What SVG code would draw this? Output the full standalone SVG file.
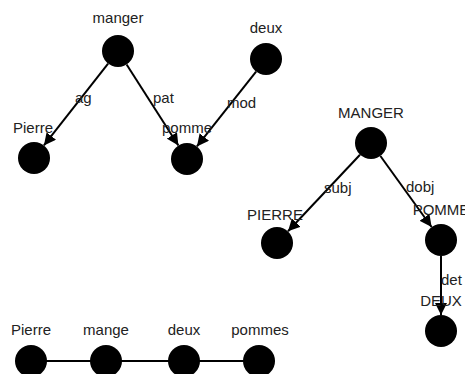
<svg xmlns="http://www.w3.org/2000/svg" width="465" height="374" viewBox="0 0 465 374">
  <style>
    .node circle { fill: #000; }
    text { font-family: "Liberation Sans", Arial, sans-serif; font-size: 15px; fill: #222; }
    .name { text-anchor: middle; }
    .rel { text-anchor: start; }
    .edge { stroke: #000; stroke-width: 2; fill: none; }
    .arc { marker-end: url(#arrow); }
  </style>
  <defs>
    <marker id="arrow" viewBox="0 0 10 10" refX="10" refY="5" markerWidth="6" markerHeight="6" orient="auto" markerUnits="strokeWidth">
      <path d="M0,0 L10,5 L0,10 z" fill="#000"/>
    </marker>
  </defs>

  <!-- connectors -->
  <g id="connectors">
    <line class="edge arc" x1="108.1" y1="63.6" x2="43.9" y2="145.4"/>
    <line class="edge arc" x1="126.6" y1="64.5" x2="178.4" y2="145.5"/>
    <line class="edge arc" x1="256.1" y1="71.6" x2="196.9" y2="146.4"/>
    <line class="edge arc" x1="360.0" y1="154.7" x2="288.0" y2="231.3"/>
    <line class="edge arc" x1="380.4" y1="156.0" x2="431.6" y2="227.0"/>
    <line class="edge arc" x1="441" y1="256" x2="441" y2="315"/>
    <line class="edge" x1="31" y1="361" x2="259" y2="361"/>
    <text class="rel" x="75" y="103">ag</text>
    <text class="rel" x="153" y="103">pat</text>
    <text class="rel" x="227" y="108">mod</text>
    <text class="rel" x="324" y="193">subj</text>
    <text class="rel" x="406" y="192">dobj</text>
    <text class="rel" x="441" y="285">det</text>
  </g>

  <!-- lowercase tree -->
  <g id="n-manger" class="node"><circle cx="118" cy="51" r="16"/><text class="name" x="118" y="23">manger</text></g>
  <g id="n-deux" class="node"><circle cx="266" cy="59" r="16"/><text class="name" x="266" y="33">deux</text></g>
  <g id="n-pierre" class="node"><circle cx="34" cy="158" r="16"/><text class="name" x="33" y="133">Pierre</text></g>
  <g id="n-pomme" class="node"><circle cx="187" cy="159" r="16"/><text class="name" x="187" y="133">pomme</text></g>

  <!-- uppercase tree -->
  <g id="N-MANGER" class="node"><circle cx="371" cy="143" r="16"/><text class="name" x="371" y="118">MANGER</text></g>
  <g id="N-PIERRE" class="node"><circle cx="277" cy="243" r="16"/><text class="name" x="275" y="220">PIERRE</text></g>
  <g id="N-POMME" class="node"><circle cx="441" cy="240" r="16"/><text class="name" x="441" y="215">POMME</text></g>
  <g id="N-DEUX" class="node"><circle cx="441" cy="331" r="16"/><text class="name" x="441" y="306">DEUX</text></g>

  <!-- word sequence -->
  <g id="w-pierre" class="node"><circle cx="31" cy="361" r="16"/><text class="name" x="31" y="335">Pierre</text></g>
  <g id="w-mange" class="node"><circle cx="106" cy="361" r="16"/><text class="name" x="106" y="335">mange</text></g>
  <g id="w-deux" class="node"><circle cx="184" cy="361" r="16"/><text class="name" x="184" y="335">deux</text></g>
  <g id="w-pommes" class="node"><circle cx="259" cy="361" r="16"/><text class="name" x="260" y="335">pommes</text></g>
</svg>
